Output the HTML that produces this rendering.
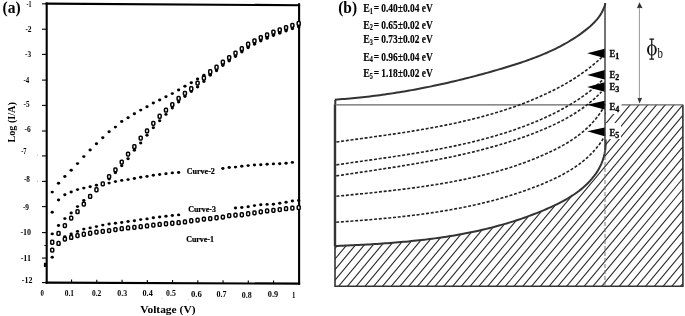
<!DOCTYPE html>
<html><head><meta charset="utf-8"><style>
html,body{margin:0;padding:0;background:#fff;}
svg{display:block;will-change:transform;}
text{font-family:"Liberation Serif",serif;fill:#000;}
</style></head><body>
<svg width="685" height="316" viewBox="0 0 685 316">
<rect width="685" height="316" fill="#fff"/>
<text x="2.5" y="13" font-size="15.7" font-weight="bold" textLength="18.1" lengthAdjust="spacingAndGlyphs">(a)</text>
<g stroke="#000" stroke-width="2.1" fill="none" stroke-linecap="square">
<path d="M46.7,3.6 L299,5.2"/>
<path d="M299.1,4.2 L299.1,283.6"/>
<path d="M46.7,282.6 L299.1,283.6"/>
<path d="M46.7,3.6 L46.7,282.6"/>
</g>
<g stroke="#000" stroke-width="1.1">
<path d="M42,3.8 H46"/>
<path d="M42,29.2 H46"/>
<path d="M42,54.4 H46"/>
<path d="M42,80.1 H46"/>
<path d="M42,105.4 H46"/>
<path d="M42,131 H46"/>
<path d="M42,155.9 H46"/>
<path d="M42,181.4 H46"/>
<path d="M42,206.6 H46"/>
<path d="M42,232.6 H46"/>
<path d="M42,258.1 H46"/>
<path d="M42,282.6 H46"/>
</g>
<g font-size="7.6" font-weight="bold">
<text x="26.4" y="6.8" textLength="5" lengthAdjust="spacingAndGlyphs">-1</text>
<text x="25.4" y="31.5" textLength="6.2" lengthAdjust="spacingAndGlyphs">-2</text>
<text x="25" y="56.5" textLength="6.1" lengthAdjust="spacingAndGlyphs">-3</text>
<text x="23.6" y="83.3" textLength="5.7" lengthAdjust="spacingAndGlyphs">-4</text>
<text x="23.6" y="107.3" textLength="6" lengthAdjust="spacingAndGlyphs">-5</text>
<text x="24.6" y="132.2" textLength="6.2" lengthAdjust="spacingAndGlyphs">-6</text>
<text x="21.2" y="154.3" textLength="5.4" lengthAdjust="spacingAndGlyphs">-7</text>
<text x="23.9" y="182" textLength="6" lengthAdjust="spacingAndGlyphs">-8</text>
<text x="22.9" y="209.5" textLength="6.1" lengthAdjust="spacingAndGlyphs">-9</text>
<text x="20.4" y="234.5" textLength="10.7" lengthAdjust="spacingAndGlyphs">-10</text>
<text x="20.7" y="260.9" textLength="10.3" lengthAdjust="spacingAndGlyphs">-11</text>
<text x="21.8" y="282.9" textLength="10.6" lengthAdjust="spacingAndGlyphs">-12</text>
</g>
<g stroke="#000" stroke-width="1.1">
<path d="M71.55,279.53 V282.73"/>
<path d="M96.8,279.66 V282.86"/>
<path d="M122.05,279.79 V282.99"/>
<path d="M147.3,279.92 V283.12"/>
<path d="M172.55,280.05 V283.25"/>
<path d="M197.8,280.18 V283.38"/>
<path d="M223.05,280.31 V283.51"/>
<path d="M248.3,280.44 V283.64"/>
<path d="M273.55,280.57 V283.77"/>
</g>
<g font-size="7.4" font-weight="bold">
<text x="40.6" y="296.3" textLength="3.4" lengthAdjust="spacingAndGlyphs">0</text>
<text x="64.8" y="296.3" textLength="9.3" lengthAdjust="spacingAndGlyphs">0.1</text>
<text x="92" y="296.3" textLength="9.3" lengthAdjust="spacingAndGlyphs">0.2</text>
<text x="117.3" y="296.3" textLength="9.9" lengthAdjust="spacingAndGlyphs">0.3</text>
<text x="142.5" y="296.3" textLength="10.3" lengthAdjust="spacingAndGlyphs">0.4</text>
<text x="166.1" y="296.3" textLength="9.7" lengthAdjust="spacingAndGlyphs">0.5</text>
<text x="190.9" y="297" textLength="10.9" lengthAdjust="spacingAndGlyphs">0.6</text>
<text x="216.5" y="296.8" textLength="10.1" lengthAdjust="spacingAndGlyphs">0.7</text>
<text x="241.8" y="297.6" textLength="10" lengthAdjust="spacingAndGlyphs">0.8</text>
<text x="267.8" y="297" textLength="10.4" lengthAdjust="spacingAndGlyphs">0.9</text>
<text x="291.9" y="297.5" textLength="3.4" lengthAdjust="spacingAndGlyphs">1</text>
</g>
<text x="140.2" y="312.9" font-size="9.8" font-weight="bold" textLength="55.3" lengthAdjust="spacingAndGlyphs">Voltage (V)</text>
<text transform="translate(14.8,142.6) rotate(-90)" font-size="10" font-weight="bold" textLength="40.4" lengthAdjust="spacingAndGlyphs">Log (I/A)</text>
<g stroke="none" fill="#000">
<ellipse cx="52.22" cy="192.1" rx="1.65" ry="1.45"/>
<ellipse cx="58.54" cy="183.2" rx="1.65" ry="1.45"/>
<ellipse cx="64.86" cy="176.5" rx="1.65" ry="1.45"/>
<ellipse cx="71.18" cy="170.2" rx="1.65" ry="1.45"/>
<ellipse cx="77.5" cy="163.6" rx="1.65" ry="1.45"/>
<ellipse cx="83.82" cy="156.6" rx="1.65" ry="1.45"/>
<ellipse cx="90.14" cy="150" rx="1.65" ry="1.45"/>
<ellipse cx="96.46" cy="143.7" rx="1.65" ry="1.45"/>
<ellipse cx="102.78" cy="137.8" rx="1.65" ry="1.45"/>
<ellipse cx="109.1" cy="131.7" rx="1.65" ry="1.45"/>
<ellipse cx="115.42" cy="127.1" rx="1.65" ry="1.45"/>
<ellipse cx="121.74" cy="121.5" rx="1.65" ry="1.45"/>
<ellipse cx="128.06" cy="117.7" rx="1.65" ry="1.45"/>
<ellipse cx="134.38" cy="113.7" rx="1.65" ry="1.45"/>
<ellipse cx="140.7" cy="110.1" rx="1.65" ry="1.45"/>
<ellipse cx="147.02" cy="106.8" rx="1.65" ry="1.45"/>
<ellipse cx="153.34" cy="103" rx="1.65" ry="1.45"/>
<ellipse cx="159.66" cy="100" rx="1.65" ry="1.45"/>
<ellipse cx="165.98" cy="96.7" rx="1.65" ry="1.45"/>
<ellipse cx="172.3" cy="93.6" rx="1.65" ry="1.45"/>
<ellipse cx="178.62" cy="90" rx="1.65" ry="1.45"/>
<ellipse cx="184.94" cy="86.2" rx="1.65" ry="1.45"/>
<ellipse cx="191.26" cy="82.7" rx="1.65" ry="1.45"/>
<ellipse cx="197.58" cy="79" rx="1.65" ry="1.45"/>
<ellipse cx="203.9" cy="75.2" rx="1.65" ry="1.45"/>
<ellipse cx="210.22" cy="74.2" rx="1.65" ry="1.45"/>
<ellipse cx="216.54" cy="69.7" rx="1.65" ry="1.45"/>
<ellipse cx="222.86" cy="64.6" rx="1.65" ry="1.45"/>
<ellipse cx="229.18" cy="60" rx="1.65" ry="1.45"/>
<ellipse cx="235.5" cy="55.5" rx="1.65" ry="1.45"/>
<ellipse cx="241.82" cy="51.1" rx="1.65" ry="1.45"/>
<ellipse cx="248.14" cy="46.7" rx="1.65" ry="1.45"/>
<ellipse cx="254.46" cy="43.3" rx="1.65" ry="1.45"/>
<ellipse cx="260.78" cy="40" rx="1.65" ry="1.45"/>
<ellipse cx="267.1" cy="37.4" rx="1.65" ry="1.45"/>
<ellipse cx="273.42" cy="34.5" rx="1.65" ry="1.45"/>
<ellipse cx="279.74" cy="32.3" rx="1.65" ry="1.45"/>
<ellipse cx="286.06" cy="30" rx="1.65" ry="1.45"/>
<ellipse cx="292.38" cy="27.8" rx="1.65" ry="1.45"/>
<ellipse cx="298.7" cy="25.9" rx="1.65" ry="1.45"/>
<ellipse cx="52.22" cy="233.9" rx="1.65" ry="1.45"/>
<ellipse cx="58.54" cy="225.5" rx="1.65" ry="1.45"/>
<ellipse cx="64.86" cy="218.6" rx="1.65" ry="1.45"/>
<ellipse cx="71.18" cy="213" rx="1.65" ry="1.45"/>
<ellipse cx="77.5" cy="206.6" rx="1.65" ry="1.45"/>
<ellipse cx="83.82" cy="200.5" rx="1.65" ry="1.45"/>
<ellipse cx="90.14" cy="195.5" rx="1.65" ry="1.45"/>
<ellipse cx="96.46" cy="190" rx="1.65" ry="1.45"/>
<ellipse cx="102.78" cy="184.5" rx="1.65" ry="1.45"/>
<ellipse cx="109.1" cy="179" rx="1.65" ry="1.45"/>
<ellipse cx="115.42" cy="172.7" rx="1.65" ry="1.45"/>
<ellipse cx="121.74" cy="165.8" rx="1.65" ry="1.45"/>
<ellipse cx="128.06" cy="158.7" rx="1.65" ry="1.45"/>
<ellipse cx="134.38" cy="150.3" rx="1.65" ry="1.45"/>
<ellipse cx="140.7" cy="143" rx="1.65" ry="1.45"/>
<ellipse cx="147.02" cy="135.2" rx="1.65" ry="1.45"/>
<ellipse cx="153.34" cy="127.8" rx="1.65" ry="1.45"/>
<ellipse cx="159.66" cy="120.8" rx="1.65" ry="1.45"/>
<ellipse cx="165.98" cy="114.4" rx="1.65" ry="1.45"/>
<ellipse cx="172.3" cy="108.1" rx="1.65" ry="1.45"/>
<ellipse cx="178.62" cy="102" rx="1.65" ry="1.45"/>
<ellipse cx="184.94" cy="96.5" rx="1.65" ry="1.45"/>
<ellipse cx="191.26" cy="91.5" rx="1.65" ry="1.45"/>
<ellipse cx="197.58" cy="87" rx="1.65" ry="1.45"/>
<ellipse cx="203.9" cy="81.5" rx="1.65" ry="1.45"/>
<ellipse cx="210.22" cy="75.2" rx="1.65" ry="1.45"/>
<ellipse cx="216.54" cy="70.7" rx="1.65" ry="1.45"/>
<ellipse cx="222.86" cy="65.6" rx="1.65" ry="1.45"/>
<ellipse cx="229.18" cy="61" rx="1.65" ry="1.45"/>
<ellipse cx="235.5" cy="56.5" rx="1.65" ry="1.45"/>
<ellipse cx="241.82" cy="52.1" rx="1.65" ry="1.45"/>
<ellipse cx="248.14" cy="47.7" rx="1.65" ry="1.45"/>
<ellipse cx="254.46" cy="44.3" rx="1.65" ry="1.45"/>
<ellipse cx="260.78" cy="41" rx="1.65" ry="1.45"/>
<ellipse cx="267.1" cy="38.4" rx="1.65" ry="1.45"/>
<ellipse cx="273.42" cy="35.5" rx="1.65" ry="1.45"/>
<ellipse cx="279.74" cy="33.3" rx="1.65" ry="1.45"/>
<ellipse cx="286.06" cy="31" rx="1.65" ry="1.45"/>
<ellipse cx="292.38" cy="28.8" rx="1.65" ry="1.45"/>
<ellipse cx="298.7" cy="26.9" rx="1.65" ry="1.45"/>
<ellipse cx="52.22" cy="212.3" rx="1.65" ry="1.45"/>
<ellipse cx="58.54" cy="200" rx="1.65" ry="1.45"/>
<ellipse cx="64.86" cy="194.8" rx="1.65" ry="1.45"/>
<ellipse cx="71.18" cy="192" rx="1.65" ry="1.45"/>
<ellipse cx="77.5" cy="189.6" rx="1.65" ry="1.45"/>
<ellipse cx="83.82" cy="188.1" rx="1.65" ry="1.45"/>
<ellipse cx="90.14" cy="186.8" rx="1.65" ry="1.45"/>
<ellipse cx="96.46" cy="185.3" rx="1.65" ry="1.45"/>
<ellipse cx="102.78" cy="183.8" rx="1.65" ry="1.45"/>
<ellipse cx="109.1" cy="183.1" rx="1.65" ry="1.45"/>
<ellipse cx="115.42" cy="181.6" rx="1.65" ry="1.45"/>
<ellipse cx="121.74" cy="180.4" rx="1.65" ry="1.45"/>
<ellipse cx="128.06" cy="179.6" rx="1.65" ry="1.45"/>
<ellipse cx="134.38" cy="178.5" rx="1.65" ry="1.45"/>
<ellipse cx="140.7" cy="177.2" rx="1.65" ry="1.45"/>
<ellipse cx="147.02" cy="176.4" rx="1.65" ry="1.45"/>
<ellipse cx="153.34" cy="175.3" rx="1.65" ry="1.45"/>
<ellipse cx="159.66" cy="174.5" rx="1.65" ry="1.45"/>
<ellipse cx="165.98" cy="173.7" rx="1.65" ry="1.45"/>
<ellipse cx="172.3" cy="172.9" rx="1.65" ry="1.45"/>
<ellipse cx="178.62" cy="172.5" rx="1.65" ry="1.45"/>
<ellipse cx="222.86" cy="168.5" rx="1.65" ry="1.45"/>
<ellipse cx="229.18" cy="167.5" rx="1.65" ry="1.45"/>
<ellipse cx="235.5" cy="167.1" rx="1.65" ry="1.45"/>
<ellipse cx="241.82" cy="166.2" rx="1.65" ry="1.45"/>
<ellipse cx="248.14" cy="165.6" rx="1.65" ry="1.45"/>
<ellipse cx="254.46" cy="165" rx="1.65" ry="1.45"/>
<ellipse cx="260.78" cy="164.7" rx="1.65" ry="1.45"/>
<ellipse cx="267.1" cy="164.3" rx="1.65" ry="1.45"/>
<ellipse cx="273.42" cy="163.9" rx="1.65" ry="1.45"/>
<ellipse cx="279.74" cy="163.7" rx="1.65" ry="1.45"/>
<ellipse cx="286.06" cy="163.3" rx="1.65" ry="1.45"/>
<ellipse cx="292.38" cy="162.4" rx="1.65" ry="1.45"/>
<ellipse cx="52.22" cy="257.2" rx="1.65" ry="1.45"/>
<ellipse cx="58.54" cy="243.4" rx="1.65" ry="1.45"/>
<ellipse cx="64.86" cy="236.6" rx="1.65" ry="1.45"/>
<ellipse cx="71.18" cy="234" rx="1.65" ry="1.45"/>
<ellipse cx="77.5" cy="231.4" rx="1.65" ry="1.45"/>
<ellipse cx="83.82" cy="229.1" rx="1.65" ry="1.45"/>
<ellipse cx="90.14" cy="227.9" rx="1.65" ry="1.45"/>
<ellipse cx="96.46" cy="226.6" rx="1.65" ry="1.45"/>
<ellipse cx="102.78" cy="225.1" rx="1.65" ry="1.45"/>
<ellipse cx="109.1" cy="224" rx="1.65" ry="1.45"/>
<ellipse cx="115.42" cy="223.2" rx="1.65" ry="1.45"/>
<ellipse cx="121.74" cy="222.5" rx="1.65" ry="1.45"/>
<ellipse cx="128.06" cy="221.5" rx="1.65" ry="1.45"/>
<ellipse cx="134.38" cy="220.8" rx="1.65" ry="1.45"/>
<ellipse cx="140.7" cy="219.6" rx="1.65" ry="1.45"/>
<ellipse cx="147.02" cy="218.9" rx="1.65" ry="1.45"/>
<ellipse cx="153.34" cy="217.8" rx="1.65" ry="1.45"/>
<ellipse cx="159.66" cy="217" rx="1.65" ry="1.45"/>
<ellipse cx="165.98" cy="216.2" rx="1.65" ry="1.45"/>
<ellipse cx="172.3" cy="215.5" rx="1.65" ry="1.45"/>
<ellipse cx="178.62" cy="214.9" rx="1.65" ry="1.45"/>
<ellipse cx="235.5" cy="208" rx="1.65" ry="1.45"/>
<ellipse cx="241.82" cy="207.5" rx="1.65" ry="1.45"/>
<ellipse cx="248.14" cy="206.7" rx="1.65" ry="1.45"/>
<ellipse cx="254.46" cy="205.6" rx="1.65" ry="1.45"/>
<ellipse cx="260.78" cy="204.8" rx="1.65" ry="1.45"/>
<ellipse cx="267.1" cy="204.4" rx="1.65" ry="1.45"/>
<ellipse cx="273.42" cy="204.2" rx="1.65" ry="1.45"/>
<ellipse cx="279.74" cy="203.3" rx="1.65" ry="1.45"/>
<ellipse cx="286.06" cy="202.3" rx="1.65" ry="1.45"/>
<ellipse cx="292.38" cy="201" rx="1.65" ry="1.45"/>
<ellipse cx="298.7" cy="200.5" rx="1.65" ry="1.45"/>
</g>
<g stroke="#000" stroke-width="1.5" fill="#fff">
<rect x="50.72" y="240.35" width="3.0" height="3.8" rx="0.9"/>
<rect x="57.04" y="231.55" width="3.0" height="3.8" rx="0.9"/>
<rect x="63.36" y="223.65" width="3.0" height="3.8" rx="0.9"/>
<rect x="69.68" y="216.15" width="3.0" height="3.8" rx="0.9"/>
<rect x="76" y="209.75" width="3.0" height="3.8" rx="0.9"/>
<rect x="82.32" y="202.15" width="3.0" height="3.8" rx="0.9"/>
<rect x="88.64" y="194.55" width="3.0" height="3.8" rx="0.9"/>
<rect x="94.96" y="187.85" width="3.0" height="3.8" rx="0.9"/>
<rect x="101.28" y="181.95" width="3.0" height="3.8" rx="0.9"/>
<rect x="107.6" y="174.65" width="3.0" height="3.8" rx="0.9"/>
<rect x="113.92" y="167.95" width="3.0" height="3.8" rx="0.9"/>
<rect x="120.24" y="160.15" width="3.0" height="3.8" rx="0.9"/>
<rect x="126.56" y="152.15" width="3.0" height="3.8" rx="0.9"/>
<rect x="132.88" y="144.75" width="3.0" height="3.8" rx="0.9"/>
<rect x="139.2" y="136.15" width="3.0" height="3.8" rx="0.9"/>
<rect x="145.52" y="129.05" width="3.0" height="3.8" rx="0.9"/>
<rect x="151.84" y="121.45" width="3.0" height="3.8" rx="0.9"/>
<rect x="158.16" y="114.35" width="3.0" height="3.8" rx="0.9"/>
<rect x="164.48" y="108.25" width="3.0" height="3.8" rx="0.9"/>
<rect x="170.8" y="102.65" width="3.0" height="3.8" rx="0.9"/>
<rect x="177.12" y="96.55" width="3.0" height="3.8" rx="0.9"/>
<rect x="183.44" y="91.45" width="3.0" height="3.8" rx="0.9"/>
<rect x="189.76" y="86.85" width="3.0" height="3.8" rx="0.9"/>
<rect x="196.08" y="81.15" width="3.0" height="3.8" rx="0.9"/>
<rect x="202.4" y="76.15" width="3.0" height="3.8" rx="0.9"/>
<rect x="208.72" y="69.85" width="3.0" height="3.8" rx="0.9"/>
<rect x="215.04" y="65.35" width="3.0" height="3.8" rx="0.9"/>
<rect x="221.36" y="60.25" width="3.0" height="3.8" rx="0.9"/>
<rect x="227.68" y="55.65" width="3.0" height="3.8" rx="0.9"/>
<rect x="234" y="51.15" width="3.0" height="3.8" rx="0.9"/>
<rect x="240.32" y="46.75" width="3.0" height="3.8" rx="0.9"/>
<rect x="246.64" y="42.35" width="3.0" height="3.8" rx="0.9"/>
<rect x="252.96" y="38.95" width="3.0" height="3.8" rx="0.9"/>
<rect x="259.28" y="35.65" width="3.0" height="3.8" rx="0.9"/>
<rect x="265.6" y="33.05" width="3.0" height="3.8" rx="0.9"/>
<rect x="271.92" y="30.15" width="3.0" height="3.8" rx="0.9"/>
<rect x="278.24" y="27.95" width="3.0" height="3.8" rx="0.9"/>
<rect x="284.56" y="25.65" width="3.0" height="3.8" rx="0.9"/>
<rect x="290.88" y="23.45" width="3.0" height="3.8" rx="0.9"/>
<rect x="297.2" y="21.55" width="3.0" height="3.8" rx="0.9"/>
<rect x="50.72" y="248.15" width="3.0" height="3.8" rx="0.9"/>
<rect x="57.04" y="241.55" width="3.0" height="3.8" rx="0.9"/>
<rect x="63.36" y="237.15" width="3.0" height="3.8" rx="0.9"/>
<rect x="69.68" y="235.55" width="3.0" height="3.8" rx="0.9"/>
<rect x="76" y="233.65" width="3.0" height="3.8" rx="0.9"/>
<rect x="82.32" y="232.35" width="3.0" height="3.8" rx="0.9"/>
<rect x="88.64" y="231.35" width="3.0" height="3.8" rx="0.9"/>
<rect x="94.96" y="230.15" width="3.0" height="3.8" rx="0.9"/>
<rect x="101.28" y="229.45" width="3.0" height="3.8" rx="0.9"/>
<rect x="107.6" y="228.65" width="3.0" height="3.8" rx="0.9"/>
<rect x="113.92" y="227.65" width="3.0" height="3.8" rx="0.9"/>
<rect x="120.24" y="226.75" width="3.0" height="3.8" rx="0.9"/>
<rect x="126.56" y="226.05" width="3.0" height="3.8" rx="0.9"/>
<rect x="132.88" y="225.45" width="3.0" height="3.8" rx="0.9"/>
<rect x="139.2" y="224.75" width="3.0" height="3.8" rx="0.9"/>
<rect x="145.52" y="224.05" width="3.0" height="3.8" rx="0.9"/>
<rect x="151.84" y="223.15" width="3.0" height="3.8" rx="0.9"/>
<rect x="158.16" y="222.55" width="3.0" height="3.8" rx="0.9"/>
<rect x="164.48" y="221.85" width="3.0" height="3.8" rx="0.9"/>
<rect x="170.8" y="221.35" width="3.0" height="3.8" rx="0.9"/>
<rect x="177.12" y="220.75" width="3.0" height="3.8" rx="0.9"/>
<rect x="183.44" y="220.05" width="3.0" height="3.8" rx="0.9"/>
<rect x="189.76" y="218.85" width="3.0" height="3.8" rx="0.9"/>
<rect x="196.08" y="218.15" width="3.0" height="3.8" rx="0.9"/>
<rect x="202.4" y="217.15" width="3.0" height="3.8" rx="0.9"/>
<rect x="208.72" y="216.65" width="3.0" height="3.8" rx="0.9"/>
<rect x="215.04" y="215.85" width="3.0" height="3.8" rx="0.9"/>
<rect x="221.36" y="215.15" width="3.0" height="3.8" rx="0.9"/>
<rect x="227.68" y="213.75" width="3.0" height="3.8" rx="0.9"/>
<rect x="234" y="213.15" width="3.0" height="3.8" rx="0.9"/>
<rect x="240.32" y="212.85" width="3.0" height="3.8" rx="0.9"/>
<rect x="246.64" y="211.85" width="3.0" height="3.8" rx="0.9"/>
<rect x="252.96" y="210.95" width="3.0" height="3.8" rx="0.9"/>
<rect x="259.28" y="209.95" width="3.0" height="3.8" rx="0.9"/>
<rect x="265.6" y="209.05" width="3.0" height="3.8" rx="0.9"/>
<rect x="271.92" y="208.45" width="3.0" height="3.8" rx="0.9"/>
<rect x="278.24" y="207.65" width="3.0" height="3.8" rx="0.9"/>
<rect x="284.56" y="206.75" width="3.0" height="3.8" rx="0.9"/>
<rect x="290.88" y="206.15" width="3.0" height="3.8" rx="0.9"/>
<rect x="297.2" y="205.65" width="3.0" height="3.8" rx="0.9"/>
</g>
<rect x="43.9" y="262.8" width="2" height="4.2" fill="#000"/>
<path d="M44.3,245.5 H46" stroke="#000" stroke-width="1"/>
<g fill="#bbb"><rect x="36.8" y="154.4" width="1" height="1.3"/><rect x="36.8" y="180.5" width="1" height="1.6"/><rect x="161.3" y="297.8" width="1" height="1"/><rect x="187.8" y="299.3" width="1" height="1"/></g>
<g font-size="8.1" font-weight="bold" stroke="#000" stroke-width="0.22">
<text x="186.8" y="174" textLength="28" lengthAdjust="spacingAndGlyphs">Curve-2</text>
<text x="188.2" y="212.1" textLength="27.8" lengthAdjust="spacingAndGlyphs">Curve-3</text>
<text x="186.2" y="242.4" textLength="27.8" lengthAdjust="spacingAndGlyphs">Curve-1</text>
</g>
<text x="338.2" y="13.3" font-size="16.2" font-weight="bold" textLength="18.9" lengthAdjust="spacingAndGlyphs">(b)</text>
<g font-size="11.6" font-weight="bold" stroke="#000" stroke-width="0.15">
<text x="363.2" y="12.2" textLength="6.6" lengthAdjust="spacingAndGlyphs">E</text>
<text x="369.8" y="13.7" font-size="8.3" textLength="3.1" lengthAdjust="spacingAndGlyphs">1</text>
<text x="373.7" y="12.2" textLength="5.3" lengthAdjust="spacingAndGlyphs">=</text>
<text x="381.3" y="12.2" textLength="51.4" lengthAdjust="spacingAndGlyphs">0.40±0.04 eV</text>
<text x="363.2" y="28.5" textLength="6.6" lengthAdjust="spacingAndGlyphs">E</text>
<text x="369.8" y="30" font-size="8.3" textLength="3.1" lengthAdjust="spacingAndGlyphs">2</text>
<text x="373.7" y="28.5" textLength="5.3" lengthAdjust="spacingAndGlyphs">=</text>
<text x="381.3" y="28.5" textLength="51.4" lengthAdjust="spacingAndGlyphs">0.65±0.02 eV</text>
<text x="363.2" y="43.2" textLength="6.6" lengthAdjust="spacingAndGlyphs">E</text>
<text x="369.8" y="44.7" font-size="8.3" textLength="3.1" lengthAdjust="spacingAndGlyphs">3</text>
<text x="373.7" y="43.2" textLength="5.3" lengthAdjust="spacingAndGlyphs">=</text>
<text x="381.3" y="43.2" textLength="51.4" lengthAdjust="spacingAndGlyphs">0.73±0.02 eV</text>
<text x="363.2" y="60.5" textLength="6.6" lengthAdjust="spacingAndGlyphs">E</text>
<text x="369.8" y="62" font-size="8.3" textLength="3.1" lengthAdjust="spacingAndGlyphs">4</text>
<text x="373.7" y="60.5" textLength="5.3" lengthAdjust="spacingAndGlyphs">=</text>
<text x="381.3" y="60.5" textLength="51.4" lengthAdjust="spacingAndGlyphs">0.96±0.04 eV</text>
<text x="363.2" y="77.2" textLength="6.6" lengthAdjust="spacingAndGlyphs">E</text>
<text x="369.8" y="78.7" font-size="8.3" textLength="3.1" lengthAdjust="spacingAndGlyphs">5</text>
<text x="373.7" y="77.2" textLength="5.3" lengthAdjust="spacingAndGlyphs">=</text>
<text x="381.3" y="77.2" textLength="51.4" lengthAdjust="spacingAndGlyphs">1.18±0.02 eV</text>
</g>
<defs><clipPath id="hc"><path d="M335,286.3 L334.9,246.08 L337.55,245.96 L340.2,245.85 L342.85,245.73 L345.5,245.61 L348.14,245.49 L350.79,245.36 L353.43,245.23 L356.08,245.1 L358.72,244.97 L361.36,244.83 L364.01,244.68 L366.65,244.53 L369.28,244.38 L371.92,244.22 L374.56,244.06 L377.19,243.89 L379.83,243.72 L382.46,243.54 L385.09,243.36 L387.72,243.17 L390.35,242.97 L392.98,242.76 L395.61,242.55 L398.23,242.33 L400.86,242.11 L403.48,241.87 L406.1,241.63 L408.72,241.38 L411.33,241.12 L413.95,240.86 L416.56,240.58 L419.17,240.3 L421.78,240 L424.39,239.7 L427,239.38 L429.6,239.06 L432.2,238.72 L434.8,238.38 L437.4,238.02 L439.99,237.65 L442.59,237.28 L445.18,236.89 L447.77,236.48 L450.35,236.07 L452.94,235.64 L455.52,235.2 L458.1,234.75 L460.68,234.29 L463.25,233.81 L465.82,233.32 L468.39,232.81 L470.96,232.29 L473.53,231.76 L476.09,231.21 L478.65,230.65 L481.2,230.07 L483.76,229.48 L486.31,228.87 L488.85,228.25 L491.4,227.61 L493.94,226.95 L496.48,226.28 L499.02,225.59 L501.55,224.88 L504.08,224.16 L506.61,223.42 L509.13,222.66 L511.65,221.88 L514.17,221.09 L516.68,220.28 L519.19,219.44 L521.7,218.59 L524.2,217.73 L526.7,216.84 L529.2,215.93 L531.69,215 L534.18,214.05 L536.67,213.08 L539.15,212.1 L541.63,211.09 L544.1,210.06 L546.57,209 L549.03,207.93 L551.48,206.82 L553.92,205.69 L556.33,204.53 L558.73,203.35 L561.1,202.12 L563.45,200.87 L565.77,199.57 L568.06,198.24 L570.31,196.87 L572.53,195.46 L574.7,194.01 L576.83,192.51 L578.92,190.97 L580.95,189.37 L582.93,187.73 L584.86,186.04 L586.73,184.29 L588.54,182.49 L590.28,180.63 L591.96,178.71 L593.57,176.74 L595.1,174.7 L596.55,172.6 L597.92,170.44 L599.2,168.22 L600.38,165.93 L601.45,163.58 L602.42,161.17 L603.27,158.69 L604.01,156.15 L604.62,153.54 L605.09,150.87 L605.43,148.14 L605.63,145.34 L605.68,142.47 L605.58,139.53 L604.8,104.8 L682.8,104.8 L682.8,286.3Z"/></clipPath></defs>
<g clip-path="url(#hc)" stroke="#2a2a2a" stroke-width="1.1"><path d="M72.43,290 L230.77,100 M81.2,290 L239.54,100 M89.97,290 L248.31,100 M98.74,290 L257.08,100 M107.51,290 L265.85,100 M116.28,290 L274.62,100 M125.05,290 L283.39,100 M133.82,290 L292.16,100 M142.59,290 L300.93,100 M151.36,290 L309.7,100 M160.13,290 L318.47,100 M168.9,290 L327.24,100 M177.67,290 L336.01,100 M186.44,290 L344.78,100 M195.21,290 L353.55,100 M203.98,290 L362.32,100 M212.75,290 L371.09,100 M221.52,290 L379.86,100 M230.29,290 L388.63,100 M239.06,290 L397.4,100 M247.83,290 L406.17,100 M256.6,290 L414.94,100 M265.37,290 L423.71,100 M274.14,290 L432.48,100 M282.91,290 L441.25,100 M291.68,290 L450.02,100 M300.45,290 L458.79,100 M309.22,290 L467.56,100 M317.99,290 L476.33,100 M326.76,290 L485.1,100 M335.53,290 L493.87,100 M344.3,290 L502.64,100 M353.07,290 L511.41,100 M361.84,290 L520.18,100 M370.61,290 L528.95,100 M379.38,290 L537.72,100 M388.15,290 L546.49,100 M396.92,290 L555.26,100 M405.69,290 L564.03,100 M414.46,290 L572.8,100 M423.23,290 L581.57,100 M432,290 L590.34,100 M440.77,290 L599.11,100 M449.54,290 L607.88,100 M458.31,290 L616.65,100 M467.08,290 L625.42,100 M475.85,290 L634.19,100 M484.62,290 L642.96,100 M493.39,290 L651.73,100 M502.16,290 L660.5,100 M510.93,290 L669.27,100 M519.7,290 L678.04,100 M528.47,290 L686.81,100 M537.24,290 L695.58,100 M546.01,290 L704.35,100 M554.78,290 L713.12,100 M563.55,290 L721.89,100 M572.32,290 L730.66,100 M581.09,290 L739.43,100 M589.86,290 L748.2,100 M598.63,290 L756.97,100 M607.4,290 L765.74,100 M616.17,290 L774.51,100 M624.94,290 L783.28,100 M633.71,290 L792.05,100 M642.48,290 L800.82,100 M651.25,290 L809.59,100 M660.02,290 L818.36,100 M668.79,290 L827.13,100 M677.56,290 L835.9,100 M686.33,290 L844.67,100 M695.1,290 L853.44,100 M703.87,290 L862.21,100 M712.64,290 L870.98,100 M721.41,290 L879.75,100"/></g>
<g stroke="#333" fill="none">
<path d="M335,104.3 V246" stroke-width="2.4"/>
<path d="M335,245 V286.3 H682.9 V104.8" stroke-width="1.6"/>
<path d="M334.9,246.08 L337.55,245.96 L340.2,245.85 L342.85,245.73 L345.5,245.61 L348.14,245.49 L350.79,245.36 L353.43,245.23 L356.08,245.1 L358.72,244.97 L361.36,244.83 L364.01,244.68 L366.65,244.53 L369.28,244.38 L371.92,244.22 L374.56,244.06 L377.19,243.89 L379.83,243.72 L382.46,243.54 L385.09,243.36 L387.72,243.17 L390.35,242.97 L392.98,242.76 L395.61,242.55 L398.23,242.33 L400.86,242.11 L403.48,241.87 L406.1,241.63 L408.72,241.38 L411.33,241.12 L413.95,240.86 L416.56,240.58 L419.17,240.3 L421.78,240 L424.39,239.7 L427,239.38 L429.6,239.06 L432.2,238.72 L434.8,238.38 L437.4,238.02 L439.99,237.65 L442.59,237.28 L445.18,236.89 L447.77,236.48 L450.35,236.07 L452.94,235.64 L455.52,235.2 L458.1,234.75 L460.68,234.29 L463.25,233.81 L465.82,233.32 L468.39,232.81 L470.96,232.29 L473.53,231.76 L476.09,231.21 L478.65,230.65 L481.2,230.07 L483.76,229.48 L486.31,228.87 L488.85,228.25 L491.4,227.61 L493.94,226.95 L496.48,226.28 L499.02,225.59 L501.55,224.88 L504.08,224.16 L506.61,223.42 L509.13,222.66 L511.65,221.88 L514.17,221.09 L516.68,220.28 L519.19,219.44 L521.7,218.59 L524.2,217.73 L526.7,216.84 L529.2,215.93 L531.69,215 L534.18,214.05 L536.67,213.08 L539.15,212.1 L541.63,211.09 L544.1,210.06 L546.57,209 L549.03,207.93 L551.48,206.82 L553.92,205.69 L556.33,204.53 L558.73,203.35 L561.1,202.12 L563.45,200.87 L565.77,199.57 L568.06,198.24 L570.31,196.87 L572.53,195.46 L574.7,194.01 L576.83,192.51 L578.92,190.97 L580.95,189.37 L582.93,187.73 L584.86,186.04 L586.73,184.29 L588.54,182.49 L590.28,180.63 L591.96,178.71 L593.57,176.74 L595.1,174.7 L596.55,172.6 L597.92,170.44 L599.2,168.22 L600.38,165.93 L601.45,163.58 L602.42,161.17 L603.27,158.69 L604.01,156.15 L604.62,153.54 L605.09,150.87 L605.43,148.14 L605.63,145.34 L605.68,142.47 L605.58,139.53" stroke-width="2"/>
</g>
<path d="M336.3,104.9 H683" stroke="#666" stroke-width="1.1"/>
<path d="M605,150 V286" stroke="#777" stroke-width="1" stroke-dasharray="4,2"/>
<path d="M605,3 V150" stroke="#444" stroke-width="1.5"/>
<path d="M334.77,99.65 L337.3,99.47 L339.83,99.29 L342.35,99.1 L344.87,98.9 L347.38,98.69 L349.9,98.47 L352.4,98.24 L354.91,98 L357.41,97.76 L359.91,97.5 L362.4,97.24 L364.89,96.96 L367.38,96.68 L369.87,96.39 L372.35,96.09 L374.83,95.78 L377.31,95.46 L379.79,95.14 L382.26,94.8 L384.73,94.46 L387.19,94.11 L389.66,93.75 L392.12,93.38 L394.58,93 L397.04,92.61 L399.49,92.22 L401.95,91.82 L404.4,91.41 L406.85,90.99 L409.29,90.56 L411.74,90.13 L414.18,89.68 L416.62,89.23 L419.06,88.77 L421.5,88.3 L423.94,87.83 L426.37,87.35 L428.8,86.86 L431.23,86.36 L433.66,85.85 L436.09,85.34 L438.52,84.81 L440.95,84.29 L443.37,83.75 L445.79,83.2 L448.22,82.65 L450.64,82.09 L453.06,81.53 L455.48,80.95 L457.9,80.37 L460.32,79.78 L462.73,79.19 L465.15,78.58 L467.57,77.97 L469.98,77.36 L472.4,76.73 L474.81,76.1 L477.23,75.46 L479.64,74.82 L482.06,74.17 L484.47,73.51 L486.88,72.84 L489.3,72.17 L491.71,71.49 L494.12,70.8 L496.54,70.11 L498.95,69.41 L501.37,68.71 L503.78,67.99 L506.19,67.27 L508.6,66.54 L511.01,65.8 L513.41,65.05 L515.81,64.28 L518.21,63.51 L520.6,62.72 L522.98,61.92 L525.36,61.1 L527.73,60.27 L530.1,59.42 L532.45,58.55 L534.8,57.67 L537.14,56.77 L539.47,55.84 L541.78,54.9 L544.09,53.94 L546.38,52.96 L548.66,51.95 L550.93,50.92 L553.18,49.87 L555.42,48.79 L557.65,47.68 L559.85,46.55 L562.05,45.4 L564.22,44.21 L566.38,43 L568.52,41.75 L570.64,40.48 L572.74,39.18 L574.82,37.84 L576.88,36.47 L578.91,35.07 L580.93,33.64 L582.92,32.16 L584.89,30.66 L586.84,29.12 L588.75,27.53 L590.62,25.9 L592.43,24.22 L594.19,22.48 L595.86,20.67 L597.46,18.8 L598.96,16.86 L600.36,14.84 L601.64,12.73 L602.8,10.53 L603.82,8.24 L604.7,5.84 L605.43,3.34" stroke="#333" stroke-width="2" fill="none"/>
<path d="M335.3,100 V104.5" stroke="#333" stroke-width="2"/>
<g stroke="#222" stroke-width="1.6" fill="none" stroke-dasharray="3,1.75">
<path d="M336.39,141.99 L338.68,141.67 L340.97,141.36 L343.27,141.04 L345.57,140.72 L347.88,140.41 L350.19,140.09 L352.5,139.77 L354.82,139.46 L357.14,139.14 L359.47,138.82 L361.8,138.51 L364.13,138.19 L366.46,137.87 L368.8,137.54 L371.14,137.22 L373.48,136.9 L375.83,136.57 L378.18,136.24 L380.53,135.91 L382.88,135.57 L385.23,135.24 L387.59,134.9 L389.94,134.55 L392.3,134.21 L394.66,133.86 L397.03,133.5 L399.39,133.15 L401.75,132.79 L404.12,132.42 L406.48,132.05 L408.85,131.68 L411.21,131.3 L413.58,130.91 L415.95,130.52 L418.31,130.13 L420.68,129.73 L423.05,129.32 L425.41,128.91 L427.78,128.49 L430.14,128.07 L432.51,127.63 L434.87,127.2 L437.23,126.75 L439.59,126.3 L441.95,125.84 L444.31,125.38 L446.66,124.9 L449.02,124.42 L451.37,123.93 L453.72,123.43 L456.07,122.92 L458.41,122.41 L460.75,121.89 L463.09,121.35 L465.43,120.81 L467.77,120.26 L470.1,119.7 L472.43,119.13 L474.75,118.55 L477.07,117.96 L479.39,117.36 L481.7,116.74 L484.01,116.12 L486.32,115.49 L488.62,114.85 L490.92,114.19 L493.21,113.52 L495.5,112.85 L497.78,112.16 L500.06,111.45 L502.34,110.74 L504.6,110.01 L506.87,109.27 L509.13,108.52 L511.38,107.76 L513.62,106.98 L515.86,106.19 L518.1,105.38 L520.33,104.56 L522.55,103.73 L524.77,102.88 L526.98,102.02 L529.18,101.15 L531.37,100.26 L533.56,99.35 L535.74,98.43 L537.92,97.5 L540.08,96.55 L542.24,95.58 L544.4,94.6 L546.54,93.6 L548.68,92.59 L550.8,91.56 L552.92,90.51 L555.03,89.45 L557.13,88.36 L559.22,87.26 L561.3,86.14 L563.37,85 L565.42,83.83 L567.47,82.65 L569.5,81.45 L571.52,80.22 L573.52,78.97 L575.52,77.7 L577.5,76.41 L579.46,75.09 L581.41,73.74 L583.34,72.38 L585.26,70.98 L587.16,69.57 L589.05,68.12 L590.91,66.65 L592.76,65.15 L594.6,63.62 L596.41,62.06 L598.21,60.48 L599.98,58.86 L601.74,57.22"/>
<path d="M336.36,164.87 L338.65,164.53 L340.95,164.19 L343.25,163.86 L345.56,163.53 L347.87,163.19 L350.18,162.86 L352.5,162.53 L354.82,162.2 L357.15,161.87 L359.48,161.54 L361.81,161.21 L364.15,160.88 L366.49,160.55 L368.83,160.22 L371.17,159.88 L373.52,159.55 L375.87,159.21 L378.22,158.88 L380.57,158.54 L382.93,158.2 L385.29,157.86 L387.65,157.51 L390.01,157.17 L392.37,156.82 L394.74,156.46 L397.1,156.11 L399.47,155.75 L401.84,155.39 L404.2,155.02 L406.57,154.65 L408.94,154.27 L411.31,153.9 L413.68,153.51 L416.05,153.12 L418.43,152.73 L420.8,152.33 L423.17,151.93 L425.54,151.52 L427.91,151.11 L430.27,150.69 L432.64,150.26 L435.01,149.83 L437.37,149.39 L439.74,148.94 L442.1,148.49 L444.46,148.03 L446.82,147.56 L449.18,147.09 L451.54,146.6 L453.89,146.11 L456.25,145.62 L458.6,145.11 L460.94,144.59 L463.29,144.07 L465.63,143.54 L467.97,142.99 L470.31,142.44 L472.64,141.88 L474.97,141.31 L477.3,140.73 L479.62,140.14 L481.94,139.54 L484.26,138.93 L486.57,138.31 L488.88,137.67 L491.18,137.03 L493.48,136.37 L495.77,135.71 L498.06,135.03 L500.35,134.34 L502.63,133.63 L504.91,132.92 L507.18,132.19 L509.44,131.45 L511.7,130.7 L513.95,129.93 L516.2,129.15 L518.44,128.36 L520.68,127.55 L522.91,126.73 L525.13,125.9 L527.35,125.05 L529.56,124.19 L531.77,123.31 L533.97,122.41 L536.16,121.51 L538.34,120.58 L540.52,119.64 L542.69,118.69 L544.85,117.72 L547,116.73 L549.15,115.73 L551.28,114.71 L553.41,113.67 L555.53,112.61 L557.64,111.54 L559.74,110.45 L561.83,109.33 L563.91,108.2 L565.97,107.04 L568.02,105.86 L570.06,104.66 L572.09,103.44 L574.1,102.19 L576.1,100.92 L578.08,99.63 L580.05,98.3 L582,96.96 L583.94,95.58 L585.85,94.18 L587.75,92.75 L589.64,91.3 L591.5,89.81 L593.35,88.29 L595.17,86.75 L596.98,85.17 L598.76,83.56 L600.53,81.92 L602.27,80.25"/>
<path d="M336.28,175.89 L338.58,175.54 L340.89,175.19 L343.2,174.85 L345.52,174.5 L347.84,174.16 L350.16,173.81 L352.48,173.47 L354.81,173.13 L357.13,172.78 L359.46,172.44 L361.8,172.09 L364.13,171.74 L366.47,171.4 L368.81,171.05 L371.15,170.7 L373.49,170.35 L375.83,170 L378.18,169.64 L380.52,169.29 L382.87,168.93 L385.22,168.57 L387.57,168.2 L389.92,167.84 L392.27,167.47 L394.63,167.1 L396.98,166.73 L399.33,166.35 L401.69,165.97 L404.04,165.58 L406.4,165.2 L408.75,164.8 L411.11,164.41 L413.46,164.01 L415.82,163.6 L418.17,163.2 L420.53,162.78 L422.88,162.36 L425.24,161.94 L427.59,161.51 L429.94,161.08 L432.29,160.64 L434.64,160.19 L436.99,159.74 L439.34,159.29 L441.69,158.82 L444.03,158.36 L446.38,157.88 L448.72,157.4 L451.06,156.91 L453.4,156.41 L455.74,155.91 L458.07,155.4 L460.4,154.88 L462.74,154.36 L465.06,153.82 L467.39,153.28 L469.72,152.73 L472.04,152.17 L474.36,151.61 L476.67,151.03 L478.99,150.45 L481.3,149.86 L483.6,149.25 L485.91,148.64 L488.21,148.02 L490.5,147.39 L492.8,146.75 L495.09,146.11 L497.38,145.45 L499.66,144.78 L501.94,144.1 L504.21,143.4 L506.48,142.7 L508.75,141.99 L511.01,141.27 L513.27,140.53 L515.52,139.79 L517.77,139.03 L520.02,138.26 L522.26,137.48 L524.49,136.69 L526.72,135.88 L528.95,135.06 L531.16,134.23 L533.38,133.39 L535.59,132.53 L537.79,131.66 L539.99,130.78 L542.18,129.88 L544.36,128.97 L546.53,128.04 L548.7,127.09 L550.85,126.12 L553,125.14 L555.13,124.13 L557.26,123.11 L559.37,122.06 L561.47,120.99 L563.55,119.89 L565.62,118.78 L567.68,117.63 L569.72,116.46 L571.75,115.27 L573.76,114.05 L575.75,112.79 L577.73,111.51 L579.68,110.2 L581.62,108.86 L583.54,107.49 L585.44,106.08 L587.31,104.64 L589.17,103.16 L591,101.65 L592.81,100.11 L594.6,98.53 L596.36,96.91 L598.1,95.25 L599.81,93.55 L601.5,91.81"/>
<path d="M336.4,196.31 L338.76,196.07 L341.11,195.83 L343.47,195.6 L345.84,195.36 L348.21,195.12 L350.59,194.88 L352.97,194.64 L355.35,194.41 L357.74,194.17 L360.13,193.92 L362.53,193.68 L364.93,193.44 L367.33,193.19 L369.73,192.94 L372.14,192.69 L374.55,192.44 L376.97,192.18 L379.38,191.92 L381.8,191.66 L384.22,191.39 L386.65,191.12 L389.07,190.85 L391.5,190.57 L393.93,190.29 L396.36,190.01 L398.79,189.72 L401.23,189.42 L403.66,189.12 L406.09,188.82 L408.53,188.51 L410.97,188.19 L413.4,187.87 L415.84,187.54 L418.28,187.2 L420.72,186.86 L423.15,186.51 L425.59,186.16 L428.03,185.8 L430.46,185.43 L432.9,185.05 L435.33,184.66 L437.77,184.27 L440.2,183.87 L442.63,183.46 L445.06,183.04 L447.49,182.61 L449.91,182.18 L452.34,181.73 L454.76,181.28 L457.18,180.81 L459.6,180.34 L462.01,179.85 L464.42,179.35 L466.83,178.85 L469.24,178.33 L471.64,177.8 L474.04,177.26 L476.44,176.71 L478.83,176.15 L481.22,175.58 L483.6,174.99 L485.98,174.39 L488.36,173.78 L490.73,173.16 L493.1,172.52 L495.46,171.87 L497.82,171.21 L500.17,170.53 L502.52,169.84 L504.86,169.14 L507.2,168.42 L509.53,167.69 L511.85,166.94 L514.17,166.18 L516.49,165.4 L518.79,164.61 L521.09,163.8 L523.39,162.98 L525.68,162.14 L527.96,161.28 L530.23,160.41 L532.5,159.52 L534.76,158.62 L537.01,157.7 L539.25,156.76 L541.49,155.8 L543.72,154.83 L545.94,153.84 L548.15,152.83 L550.36,151.8 L552.55,150.75 L554.73,149.68 L556.89,148.58 L559.04,147.46 L561.18,146.32 L563.29,145.15 L565.39,143.94 L567.46,142.71 L569.52,141.45 L571.54,140.16 L573.55,138.83 L575.52,137.46 L577.47,136.06 L579.38,134.62 L581.27,133.15 L583.12,131.63 L584.94,130.07 L586.72,128.46 L588.47,126.81 L590.18,125.12 L591.84,123.37 L593.47,121.58 L595.05,119.74 L596.58,117.85 L598.07,115.9 L599.52,113.9 L600.91,111.85 L602.26,109.73 L603.55,107.56"/>
<path d="M336.17,222.19 L338.56,222.03 L340.95,221.86 L343.35,221.69 L345.74,221.53 L348.14,221.35 L350.54,221.18 L352.94,221 L355.34,220.82 L357.75,220.64 L360.16,220.46 L362.56,220.27 L364.97,220.08 L367.38,219.88 L369.8,219.68 L372.21,219.48 L374.62,219.27 L377.04,219.06 L379.45,218.85 L381.87,218.63 L384.29,218.4 L386.71,218.17 L389.12,217.94 L391.54,217.7 L393.96,217.45 L396.38,217.2 L398.8,216.95 L401.22,216.68 L403.64,216.42 L406.06,216.14 L408.48,215.86 L410.9,215.57 L413.31,215.28 L415.73,214.98 L418.15,214.67 L420.57,214.35 L422.98,214.03 L425.4,213.7 L427.81,213.36 L430.22,213.01 L432.63,212.66 L435.04,212.3 L437.45,211.92 L439.86,211.54 L442.27,211.16 L444.67,210.76 L447.07,210.35 L449.47,209.94 L451.87,209.51 L454.27,209.07 L456.66,208.63 L459.06,208.18 L461.45,207.71 L463.84,207.24 L466.22,206.75 L468.6,206.25 L470.98,205.75 L473.36,205.23 L475.74,204.7 L478.11,204.16 L480.48,203.61 L482.84,203.04 L485.21,202.47 L487.57,201.88 L489.92,201.28 L492.28,200.67 L494.63,200.04 L496.97,199.41 L499.31,198.76 L501.65,198.1 L503.99,197.42 L506.32,196.73 L508.64,196.03 L510.96,195.31 L513.28,194.58 L515.6,193.84 L517.9,193.08 L520.21,192.31 L522.51,191.52 L524.8,190.72 L527.09,189.9 L529.38,189.07 L531.66,188.22 L533.94,187.36 L536.21,186.48 L538.47,185.59 L540.73,184.68 L542.98,183.75 L545.23,182.81 L547.47,181.85 L549.69,180.86 L551.91,179.86 L554.11,178.83 L556.3,177.78 L558.47,176.7 L560.63,175.6 L562.77,174.47 L564.88,173.31 L566.98,172.12 L569.05,170.9 L571.1,169.65 L573.12,168.36 L575.12,167.04 L577.09,165.68 L579.02,164.29 L580.93,162.85 L582.81,161.38 L584.65,159.86 L586.45,158.3 L588.22,156.7 L589.95,155.05 L591.64,153.36 L593.29,151.62 L594.9,149.83 L596.46,147.99 L597.98,146.1 L599.45,144.16 L600.88,142.16 L602.25,140.11 L603.58,138"/>
</g>
<path d="M587.2,53.3 L604.6,48.8 V58 Q596,55.8 587.2,53.3Z" fill="#000"/>
<path d="M587.2,75 L604.6,70 V79.5 Q596,77.3 587.2,75Z" fill="#000"/>
<path d="M587.2,87 L604.6,82.3 V91.8 Q596,89.6 587.2,87Z" fill="#000"/>
<path d="M587.2,104.8 L604.6,100.8 V109.6 Q596,107.4 587.2,104.8Z" fill="#000"/>
<path d="M587.2,131.3 L604.6,127.4 V136.2 Q596,134 587.2,131.3Z" fill="#000"/>
<rect x="606" y="96" width="15.6" height="18" fill="#fff"/>
<rect x="606" y="123" width="15" height="16" fill="#fff"/>
<g font-size="10" font-weight="bold" stroke="#000" stroke-width="0.3">
<text x="609.5" y="56.6" font-size="10.6" textLength="5.7" lengthAdjust="spacingAndGlyphs">E</text>
<text x="615.3" y="58.5" font-size="8">1</text>
<text x="609.5" y="77.9" font-size="10.6" textLength="5.7" lengthAdjust="spacingAndGlyphs">E</text>
<text x="615.3" y="79.8" font-size="8">2</text>
<text x="609.5" y="89.6" font-size="10.6" textLength="5.7" lengthAdjust="spacingAndGlyphs">E</text>
<text x="615.3" y="91.5" font-size="8">3</text>
<text x="609.5" y="109.8" font-size="10.6" textLength="5.7" lengthAdjust="spacingAndGlyphs">E</text>
<text x="615.3" y="111.7" font-size="8">4</text>
<text x="609.5" y="135.6" font-size="10.6" textLength="5.7" lengthAdjust="spacingAndGlyphs">E</text>
<text x="615.3" y="137.5" font-size="8">5</text>
</g>
<path d="M639.4,7 V99" stroke="#999" stroke-width="1"/>
<path d="M639.4,2.2 L642.6,8.3 Q639.4,7.4 636.9,8.3Z" fill="#333"/>
<path d="M639.6,103.6 L642.2,97.8 Q639.6,98.6 637.4,97.8Z" fill="#333"/>
<g fill="none" stroke="#111">
<ellipse cx="651.9" cy="49.95" rx="4.9" ry="5.6" fill="#111" stroke="none"/>
<ellipse cx="651.9" cy="49.95" rx="2.95" ry="4.8" fill="#fff" stroke="none"/>
<path d="M651.75,38.8 V59.6 M649.4,39.2 H654.1 M649.4,59.2 H654.1" stroke-width="1.25"/>
</g>
<text x="657.6" y="57.7" font-size="14" font-family="Liberation Serif, serif" textLength="5.4" lengthAdjust="spacingAndGlyphs" fill="#111">b</text>
</svg></body></html>
